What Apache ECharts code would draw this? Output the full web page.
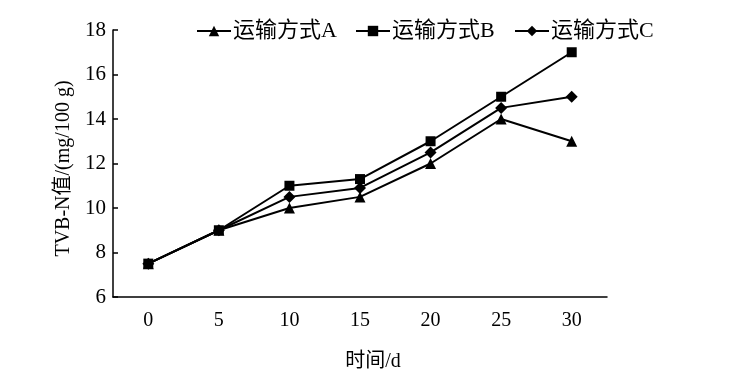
<!DOCTYPE html>
<html><head><meta charset="utf-8">
<script src="https://cdn.jsdelivr.net/npm/echarts@6/dist/echarts.min.js"></script>
<style>html,body{margin:0;padding:0;background:#fff}#c{width:741px;height:370px}</style>
</head><body><div id="c"></div>
<script>
const days = ['0','5','10','15','20','25','30'];
const seriesNames = ['运输方式A','运输方式B','运输方式C'];
const valuesA = [7.5, 9.0, 10.0, 10.5, 12.0, 14.0, 13.0];
const valuesB = [7.5, 9.0, 11.0, 11.3, 13.0, 15.0, 17.0];
const valuesC = [7.5, 9.0, 10.5, 10.9, 12.5, 14.5, 15.0];
const yTicks = [6, 8, 10, 12, 14, 16, 18];

const FONT = '"Liberation Serif", "Times New Roman", "Noto Sans CJK SC", serif';
const chart = echarts.init(document.getElementById('c'));
const symbols = ['triangle', 'rect', 'diamond'];
const sizes = [11, 10, 12];
const data = [valuesA, valuesB, valuesC];
const legendLeft = [191, 350, 509];
chart.setOption({
  animation: false,
  backgroundColor: '#fff',
  textStyle: {fontFamily: FONT, color: '#000'},
  legend: seriesNames.map((n, i) => ({
    data: [n], left: legendLeft[i], top: 15, itemWidth: 34, itemHeight: 13, itemGap: 4,
    textStyle: {fontFamily: FONT, fontSize: 22, color: '#000', padding: [0,0,0,-3]},
    inactiveColor: '#000'
  })),
  grid: {left: 113, right: 134, top: 30, bottom: 73, containLabel: false, outerBoundsMode: 'none'},
  xAxis: {
    type: 'category', data: days, boundaryGap: true,
    name: '时间/d', nameLocation: 'middle', nameGap: 55,
    nameTextStyle: {fontFamily: FONT, fontSize: 20, color: '#000', padding: [0,0,0,26]},
    axisLine: {lineStyle: {color: '#000', width: 1.5}},
    axisTick: {inside: true, length: 5, lineStyle: {color: '#000', width: 1.5}},
    axisLabel: {fontFamily: FONT, fontSize: 20, color: '#000', margin: 14},
    splitLine: {show: false}
  },
  yAxis: {
    type: 'value', min: yTicks[0], max: yTicks[yTicks.length-1], interval: 2,
    name: 'TVB-N值/(mg/100 g)', nameLocation: 'middle', nameGap: 33, nameRotate: 90,
    nameTextStyle: {fontFamily: FONT, fontSize: 20, color: '#000', padding: [0,10,0,0]},
    axisLine: {show: true, lineStyle: {color: '#000', width: 1.5}},
    axisTick: {show: true, inside: true, length: 5, lineStyle: {color: '#000', width: 1.5}},
    axisLabel: {fontFamily: FONT, fontSize: 21, color: '#000', margin: 7},
    splitLine: {show: false}
  },
  series: seriesNames.map((n, i) => ({
    name: n, type: 'line', data: data[i],
    symbol: symbols[i], symbolSize: sizes[i],
    itemStyle: {color: '#000'},
    lineStyle: {color: '#000', width: 2},
    z: 3 - i
  }))
});
</script></body></html>
